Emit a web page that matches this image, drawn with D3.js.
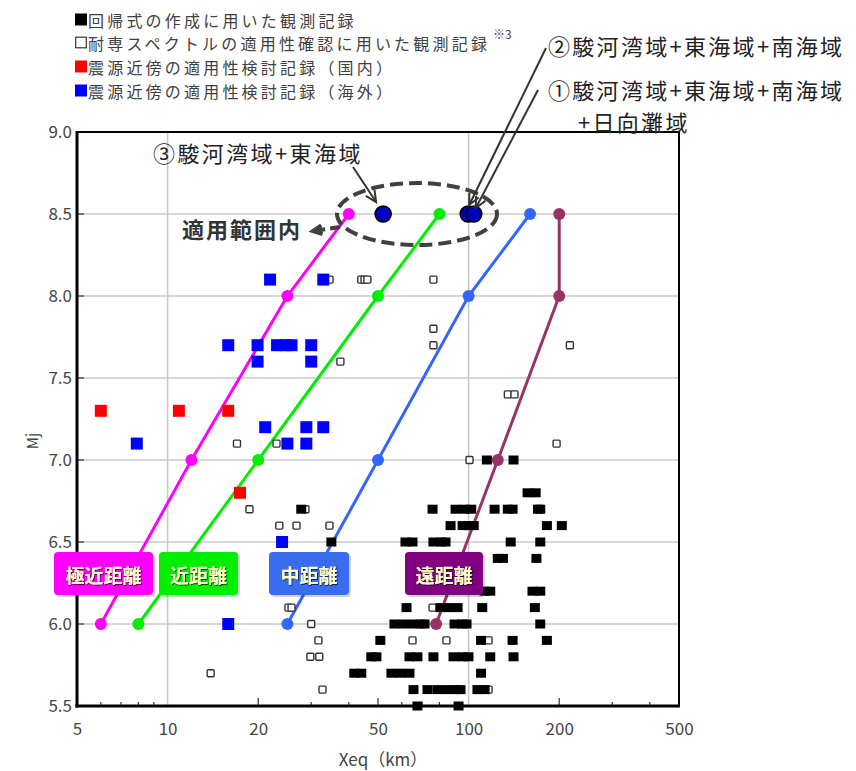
<!DOCTYPE html>
<html><head><meta charset="utf-8">
<script src="https://cdn.jsdelivr.net/npm/d3@7"></script>
<style>
html,body{margin:0;padding:0;background:#fff;}
svg{display:block;font-family:"Noto Sans CJK JP","Noto Sans",sans-serif;}
</style></head><body>
<svg id="chart" width="856" height="771"></svg>
<script>
// ---- axis settings ----
const xTickValues = [5, 10, 20, 50, 100, 200, 500];
const xMinorTicks = [6, 7, 8, 9, 20, 30, 40, 50, 60, 70, 80, 90, 200, 300, 400];
const xGridValues = [10, 100];
const yTickValues = [5.5, 6.0, 6.5, 7.0, 7.5, 8.0, 8.5, 9.0];
const yGridValues = [6.0, 6.5, 7.0, 7.5, 8.0, 8.5];

// ---- distance bands (Mj control points) ----
const bandNames = ["極近距離", "近距離", "中距離", "遠距離"];
const bandColors = ["#ff00ff", "#00ee00", "#3366ff", "#993366"];
const bandBoxColors = ["#ff00ff", "#00ee00", "#3a6cf0", "#800080"];
const bandMj = [6.0, 7.0, 8.0, 8.5];
const bandVeryNear = [6, 12, 25, 40];
const bandNear = [8, 20, 50, 80];
const bandMiddle = [25, 50, 100, 160];
const bandFar = [78, 125, 200, 200];
const bandXeq = [bandVeryNear, bandNear, bandMiddle, bandFar];

// ---- observed records [Xeq(km), Mj] ----
const regressionRecords = [
  [67.6,5.5],[92.6,5.5],
  [65.6,5.6],[73,5.6],[78.8,5.6],[84.4,5.6],[90.5,5.6],[94,5.6],[107,5.6],[113,5.6],
  [41.7,5.7],[44,5.7],[55.4,5.7],[59.4,5.7],[63.6,5.7],[110,5.7],
  [47.5,5.8],[49.4,5.8],[63.6,5.8],[67.6,5.8],[76.4,5.8],[89.1,5.8],[95.5,5.8],[99.9,5.8],[118,5.8],[141,5.8],
  [50.9,5.9],[110,5.9],[140,5.9],[182,5.9],
  [56.7,6.0],[60.7,6.0],[65.1,6.0],[69.2,6.0],[71.4,6.0],[89.8,6.0],[95.5,6.0],[98.4,6.0],[173,6.0],
  [62.2,6.1],[80.7,6.1],[85.7,6.1],[91.9,6.1],[111,6.1],[166,6.1],
  [113,6.2],[118,6.2],[163,6.2],[173,6.2],
  [125,6.4],[130,6.4],[168,6.4],
  [35,6.5],[61.7,6.5],[65.1,6.5],[76.4,6.5],[81.3,6.5],[83.8,6.5],[138,6.5],[173,6.5],
  [87.1,6.6],[95.5,6.6],[99.9,6.6],[104,6.6],[182,6.6],[204,6.6],
  [27.8,6.7],[75.9,6.7],[90.5,6.7],[96.9,6.7],[102,6.7],[122,6.7],[135,6.7],[140,6.7],[170,6.7],[173,6.7],
  [157,6.8],[167,6.8],
  [115,7.0],[141,7.0]
];
const checkRecords = [
  [32.7,5.6],[116.5,5.6],
  [13.9,5.7],
  [29.8,5.8],[31.9,5.8],
  [31.7,5.9],[65.1,5.9],[84.4,5.9],[116.5,5.9],
  [30,6.0],
  [25.2,6.1],[25.8,6.1],[75.9,6.1],
  [23.5,6.6],[26.8,6.6],[34.5,6.6],
  [18.7,6.7],[28.7,6.7],
  [100.7,7.0],
  [17,7.1],[23,7.1],[196,7.1],
  [135,7.4],[142,7.4],
  [37.5,7.6],
  [76.4,7.7],[217,7.7],
  [76.4,7.8],
  [34.5,8.1],[44,8.1],[45.1,8.1],[46.1,8.1],[76.4,8.1]
];
const domesticRecords = [[6.0,7.3],[10.9,7.3],[15.9,7.3],[17.4,6.8]];
const overseasRecords = [
  [15.9,6.0],[24,6.5],
  [7.9,7.1],[25,7.1],[28.9,7.1],
  [21.1,7.2],[28.9,7.2],[32.9,7.2],
  [19.9,7.6],[30,7.6],
  [15.9,7.7],[19.9,7.7],[23.1,7.7],[24.6,7.7],[25.8,7.7],[30,7.7],
  [21.9,8.1],[32.9,8.1]
];

// ---- source-region cases ----
const caseNames = ["③駿河湾域+東海域", "②駿河湾域+東海域+南海域", "①駿河湾域+東海域+南海域"];
const caseNameCont = "+日向灘域";
const caseXeq = [52, 99.7, 104];
const caseMj = [8.5, 8.5, 8.5];

const legendLabels = [
  "回帰式の作成に用いた観測記録",
  "耐専スペクトルの適用性確認に用いた観測記録",
  "震源近傍の適用性検討記録（国内）",
  "震源近傍の適用性検討記録（海外）"
];

// ---- drawing ----
const svg = d3.select("#chart");
const L = 77, R = 679, T = 132, B = 706;
const x = d3.scaleLog().domain([5, 500]).range([L, R]);
const y = d3.scaleLinear().domain([5.5, 9.0]).range([B, T]);

// grid
svg.append("g").selectAll("line").data(yGridValues).join("line")
  .attr("x1", L).attr("x2", R).attr("y1", d => y(d)).attr("y2", d => y(d))
  .attr("stroke", "#c8c8c8").attr("stroke-width", 1.6);
svg.append("g").selectAll("line").data(xGridValues).join("line")
  .attr("x1", d => x(d)).attr("x2", d => x(d)).attr("y1", T).attr("y2", B)
  .attr("stroke", "#c8c8c8").attr("stroke-width", 1.6);

// inner ticks
svg.append("g").selectAll("line").data(xMinorTicks).join("line")
  .attr("x1", d => x(d)).attr("x2", d => x(d))
  .attr("y1", B).attr("y2", d => B - ([20, 50, 200].includes(d) ? 8 : 4))
  .attr("stroke", "#333").attr("stroke-width", 1.2);
svg.append("g").selectAll("line").data(yTickValues).join("line")
  .attr("x1", L).attr("x2", L + 7).attr("y1", d => y(d)).attr("y2", d => y(d))
  .attr("stroke", "#333").attr("stroke-width", 1.2);

// distance band lines
const lineGen = d3.line().x(d => x(d[0])).y(d => y(d[1]));
bandXeq.forEach((xs, i) => {
  const pts = xs.map((v, j) => [v, bandMj[j]]);
  svg.append("path").datum(pts).attr("d", lineGen)
    .attr("fill", "none").attr("stroke", bandColors[i]).attr("stroke-width", 3);
});

// observed records
const gMarks = svg.append("g");
gMarks.selectAll(".chk").data(checkRecords).join("rect")
  .attr("x", d => x(d[0]) - 3.5).attr("y", d => y(d[1]) - 3.5)
  .attr("width", 7).attr("height", 7).attr("rx", 1)
  .attr("fill", "#fff").attr("stroke", "#333").attr("stroke-width", 1.4);
gMarks.selectAll(".reg").data(regressionRecords).join("rect")
  .attr("x", d => x(d[0]) - 5).attr("y", d => y(d[1]) - 4.5)
  .attr("width", 10).attr("height", 9).attr("fill", "#000");
gMarks.selectAll(".dom").data(domesticRecords).join("rect")
  .attr("x", d => x(d[0]) - 6).attr("y", d => y(d[1]) - 6)
  .attr("width", 12).attr("height", 12).attr("fill", "#ff0000");
gMarks.selectAll(".ovs").data(overseasRecords).join("rect")
  .attr("x", d => x(d[0]) - 6).attr("y", d => y(d[1]) - 6)
  .attr("width", 12).attr("height", 12).attr("fill", "#0000ff");

// band control points
bandXeq.forEach((xs, i) => {
  svg.append("g").selectAll("circle").data(xs.map((v, j) => [v, bandMj[j]])).join("circle")
    .attr("cx", d => x(d[0])).attr("cy", d => y(d[1])).attr("r", 6)
    .attr("fill", bandColors[i]);
});

// frame
svg.append("rect").attr("x", L).attr("y", T).attr("width", R - L).attr("height", B - T)
  .attr("fill", "none").attr("stroke", "#000").attr("stroke-width", 2);
svg.append("line").attr("x1", L).attr("x2", L).attr("y1", T - 1).attr("y2", B + 1.5)
  .attr("stroke", "#000").attr("stroke-width", 3);
svg.append("line").attr("x1", L - 1.5).attr("x2", R + 1).attr("y1", B).attr("y2", B)
  .attr("stroke", "#000").attr("stroke-width", 3);

// axes labels
const xAxis = d3.axisBottom(x).tickValues(xTickValues).tickFormat(d3.format("d"))
  .tickSizeInner(0).tickSizeOuter(0).tickPadding(17);
const gx = svg.append("g").attr("transform", `translate(0,${B})`).call(xAxis);
gx.select(".domain").remove();
gx.selectAll("text").attr("font-size", 17).attr("fill", "#444")
  .attr("font-family", "'Noto Sans CJK JP',sans-serif");
const yAxis = d3.axisLeft(y).tickValues(yTickValues).tickFormat(d3.format(".1f"))
  .tickSizeInner(0).tickSizeOuter(0).tickPadding(5);
const gy = svg.append("g").attr("transform", `translate(${L},0)`).call(yAxis);
gy.select(".domain").remove();
gy.selectAll("text").attr("font-size", 17).attr("fill", "#444")
  .attr("font-family", "'Noto Sans CJK JP',sans-serif");

svg.append("text").attr("x", 383).attr("y", 758).attr("text-anchor", "middle")
  .attr("dominant-baseline", "central").attr("font-size", 17).attr("fill", "#444")
  .text("Xeq（km）");
svg.append("text").attr("transform", "translate(31,441) rotate(-90)").attr("text-anchor", "middle")
  .attr("dominant-baseline", "central").attr("font-size", 15).attr("fill", "#444").text("Mj");

// band label boxes
const boxes = [[54, 99], [159, 79], [269, 80], [405, 78]];
const defs = svg.append("defs");
const f = defs.append("filter").attr("id", "txtshadow").attr("x", "-10%").attr("y", "-20%")
  .attr("width", "130%").attr("height", "150%");
f.append("feDropShadow").attr("dx", 0.8).attr("dy", 0.8).attr("stdDeviation", 0.6)
  .attr("flood-color", "#000").attr("flood-opacity", 0.8);
boxes.forEach(([bx, bw], i) => {
  svg.append("rect").attr("x", bx + 2).attr("y", 554).attr("width", bw).attr("height", 43)
    .attr("rx", 4).attr("fill", "#000").attr("opacity", 0.18);
  svg.append("rect").attr("x", bx).attr("y", 552).attr("width", bw).attr("height", 43)
    .attr("rx", 4).attr("fill", bandBoxColors[i]);
  svg.append("text").attr("x", bx + bw / 2).attr("y", 574).attr("text-anchor", "middle")
    .attr("dominant-baseline", "central").attr("font-size", 19).attr("font-weight", 700)
    .attr("fill", "#ffffc8").attr("filter", "url(#txtshadow)").text(bandNames[i]);
});

// source-region cases
svg.append("g").selectAll("circle").data(caseXeq.map((v, i) => [v, caseMj[i]])).join("circle")
  .attr("cx", d => x(d[0])).attr("cy", d => y(d[1])).attr("r", 8)
  .attr("fill", "#0000c0").attr("stroke", "#000").attr("stroke-width", 1.6);

// applicable-range ellipse
svg.append("ellipse").attr("cx", 417).attr("cy", 214).attr("rx", 80).attr("ry", 31)
  .attr("fill", "none").attr("stroke", "#404040").attr("stroke-width", 4)
  .attr("stroke-dasharray", "13,6");

function arrow(x1, y1, x2, y2, opts = {}) {
  const g = svg.append("g").attr("stroke", opts.color || "#333")
    .attr("stroke-width", opts.width || 2).attr("fill", "none");
  g.append("line").attr("x1", x1).attr("y1", y1).attr("x2", x2).attr("y2", y2)
    .attr("stroke-dasharray", opts.dash || null);
  const a = Math.atan2(y2 - y1, x2 - x1), len = opts.head || 12, spread = 0.45;
  const p = [a + Math.PI - spread, a + Math.PI + spread].map(t => [x2 + len * Math.cos(t), y2 + len * Math.sin(t)]);
  g.append("path").attr("d", `M${p[0][0]},${p[0][1]}L${x2},${y2}L${p[1][0]},${p[1][1]}`)
    .attr("stroke-linejoin", "miter");
}

// callouts
const c3 = [x(caseXeq[0]), y(caseMj[0])];
const c2 = [x(caseXeq[1]), y(caseMj[1])];
const c1 = [x(caseXeq[2]), y(caseMj[2])];
arrow(353, 167, c3[0] - 7, c3[1] - 12, { width: 2 });
arrow(546, 48, c2[0] + 1, c2[1] - 9, { width: 2 });
arrow(538, 90, c1[0] + 2, c1[1] - 6, { width: 2 });
arrow(340, 227, 313, 231, { width: 4, color: "#404040", dash: "10,5", head: 10 });

svg.append("text").attr("x", 153).attr("y", 152).attr("dominant-baseline", "central")
  .attr("font-size", 22).attr("letter-spacing", 2.4).attr("fill", "#222").text(caseNames[0]);
svg.append("text").attr("x", 548).attr("y", 45).attr("dominant-baseline", "central")
  .attr("font-size", 22).attr("letter-spacing", 2.3).attr("fill", "#222").text(caseNames[1]);
const t1 = svg.append("text").attr("font-size", 22).attr("letter-spacing", 2.3)
  .attr("fill", "#222").attr("dominant-baseline", "central");
t1.append("tspan").attr("x", 548).attr("y", 89).text(caseNames[2]);
t1.append("tspan").attr("x", 578).attr("y", 121).text(caseNameCont);
svg.append("text").attr("x", 182).attr("y", 228).attr("dominant-baseline", "central")
  .attr("font-size", 22).attr("letter-spacing", 2).attr("font-weight", 700).attr("fill", "#333").text("適用範囲内");

// legend
const legendSwatch = [
  { fill: "#000", stroke: "none" },
  { fill: "#fff", stroke: "#333" },
  { fill: "#ff0000", stroke: "none" },
  { fill: "#0000ff", stroke: "none" }
];
const legendY = [20, 43, 67, 91];
legendLabels.forEach((t, i) => {
  const s = legendSwatch[i];
  svg.append("rect").attr("x", s.stroke === "none" ? 75 : 75.7).attr("y", legendY[i] - 6.5 + (s.stroke === "none" ? 0 : 0.7))
    .attr("width", s.stroke === "none" ? 12 : 10.6).attr("height", s.stroke === "none" ? 12 : 10.6)
    .attr("fill", s.fill).attr("stroke", s.stroke).attr("stroke-width", 1.2);
  svg.append("text").attr("x", 88).attr("y", legendY[i]).attr("dominant-baseline", "central")
    .attr("font-size", 16).attr("letter-spacing", 3.2).attr("fill", "#404040").text(t);
});
svg.append("text").attr("x", 493).attr("y", 33).attr("dominant-baseline", "central")
  .attr("font-size", 12).attr("fill", "#404040").text("※3");
</script></body></html>
